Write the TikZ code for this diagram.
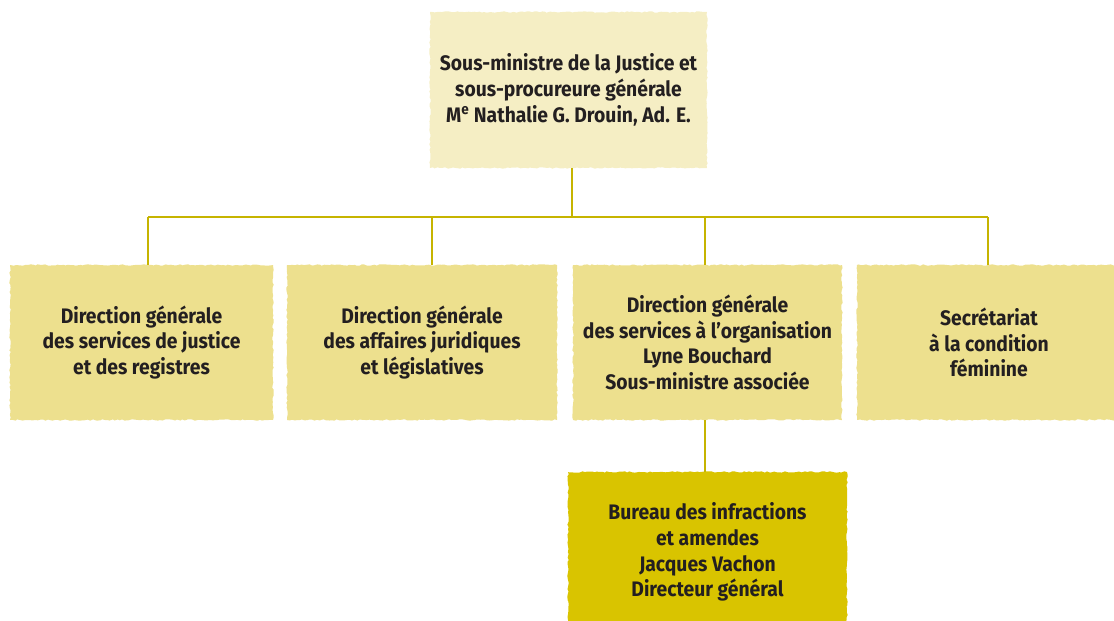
\documentclass[tikz,border=0pt]{standalone}
\usepackage{fontspec}
\setmainfont{Fira Sans}[FakeStretch=0.92]
\usetikzlibrary{decorations.pathmorphing,calc}
\definecolor{topfill}{RGB}{245,238,196}
\definecolor{midfill}{RGB}{237,224,142}
\definecolor{lowfill}{RGB}{217,196,0}
\definecolor{linecol}{RGB}{198,180,0}
\definecolor{txtcol}{RGB}{35,31,32}
\tikzset{
  orgbox/.style={inner sep=0pt, align=center, text=txtcol,
    font=\fontsize{21}{25.8}\selectfont\bfseries,
    decorate, decoration={random steps, segment length=2.5pt, amplitude=0.7pt}},
  topbox/.style={orgbox, fill=topfill, minimum width=277pt, minimum height=156pt},
  midbox/.style={orgbox, fill=midfill, minimum width=266pt, minimum height=155pt},
  lowbox/.style={orgbox, fill=lowfill, minimum width=279pt, minimum height=160pt},
  link/.style={draw=linecol, line width=1.6pt}
}
\begin{document}
\begin{tikzpicture}[x=1pt,y=-1pt]
\useasboundingbox (0,0) rectangle (1114,621);
\node[topbox] (top) at (568.5,90) {Sous-ministre de la Justice et\\sous-procureure générale\\M\textsuperscript{e} Nathalie G. Drouin, Ad. E.};
\node[midbox, minimum width=263pt] (c1) at (141.5,342.5) {Direction générale\\des services de justice\\et des registres};
\node[midbox, minimum width=270pt] (c2) at (422,342.5) {Direction générale\\des affaires juridiques\\et législatives};
\node[midbox, minimum width=269pt] (c3) at (707.5,342.5) {Direction générale\\des services à l’organisation\\Lyne Bouchard\\Sous-ministre associée};
\node[midbox, minimum width=264pt] (c4) at (989,342.5) {Secrétariat\\à la condition\\féminine};
\node[lowbox] (low) at (707.5,552) {Bureau des infractions\\et amendes\\Jacques Vachon\\Directeur général};
\coordinate (busL) at (148,217);
\coordinate (busR) at (988,217);
\coordinate (t0) at ($(top.south)+(3.5,0)$);
\coordinate (t1) at ($(c1.north)+(6.5,0)$);
\coordinate (t2) at ($(c2.north)+(10,0)$);
\coordinate (t3) at ($(c3.north)+(-2.5,0)$);
\coordinate (t4) at ($(c4.north)+(-1,0)$);
\coordinate (b3) at ($(c3.south)+(-2.5,0)$);
\coordinate (bl) at ($(low.north)+(-2.5,0)$);
\draw[link] (busL) -- (busR);
\draw[link] (t0) -- (t0 |- busL);
\draw[link] (t1) -- (t1 |- busL);
\draw[link] (t2) -- (t2 |- busL);
\draw[link] (t3) -- (t3 |- busL);
\draw[link] (t4) -- (t4 |- busL);
\draw[link] (b3) -- (bl);
\end{tikzpicture}
\end{document}
